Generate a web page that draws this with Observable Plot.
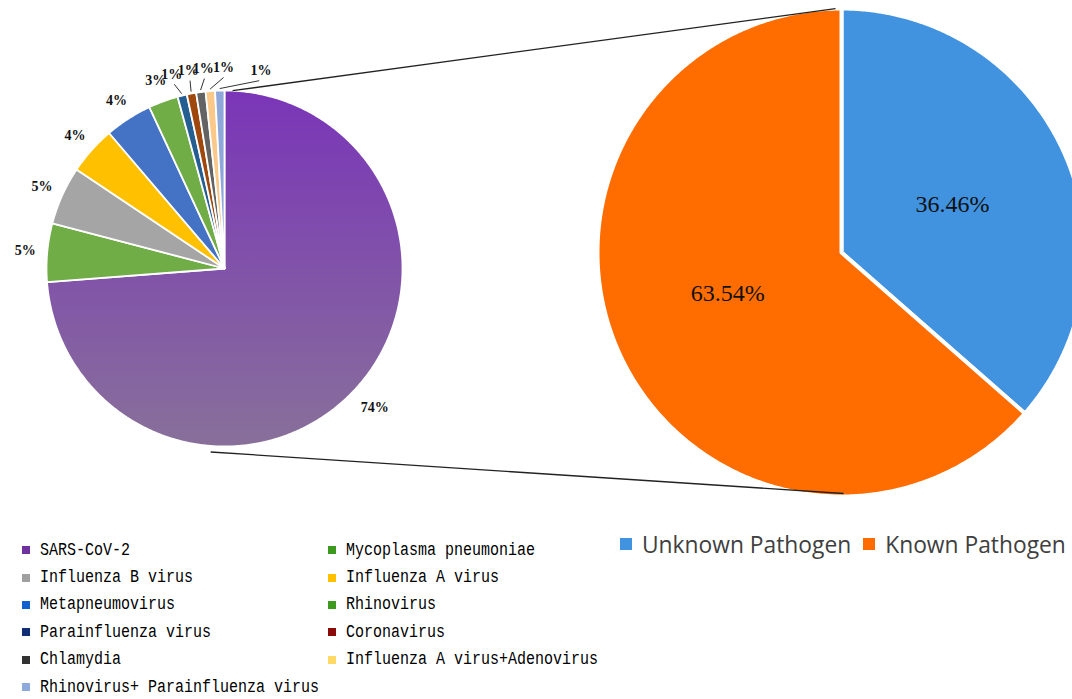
<!DOCTYPE html>
<html><head><meta charset="utf-8">
<script src="https://cdn.jsdelivr.net/npm/d3@7"></script>
<script src="https://cdn.jsdelivr.net/npm/@observablehq/plot@0.6"></script>
<style>
body{margin:0;background:#fff;overflow:hidden;width:1072px;height:699px;position:relative}
#chart{position:absolute;left:0;top:0}
#legL{position:absolute;left:22px;top:536.5px;display:grid;grid-template-columns:306px auto;font-family:"Liberation Mono",monospace;font-size:15px;color:#000}
#legL .it{display:flex;align-items:center;height:27.4px;white-space:nowrap}
#legL .sw{width:8px;height:8px;margin-right:10px;flex:none}
#legL .tx{display:inline-block;transform:scaleY(1.18);transform-origin:center}
#legR{position:absolute;left:620px;top:530px;height:28px;display:flex;align-items:center;font-family:"Open Sans",sans-serif;font-size:22.8px;color:#404040;white-space:nowrap}
#legR .sw{width:12px;height:12px;margin-right:10px;flex:none}
#legR .tx{margin-right:12px}
</style>
</head><body>
<div id="chart"></div>
<div id="legL"></div>
<div id="legR"></div>
<script>
// ---- data ----
const pathogens = ["SARS-CoV-2","Mycoplasma pneumoniae","Influenza B virus","Influenza A virus","Metapneumovirus","Rhinovirus","Parainfluenza virus","Coronavirus","Chlamydia","Influenza A virus+Adenovirus","Rhinovirus+ Parainfluenza virus"];
const pathogenPercents = [73.9, 5.3, 5.3, 4.4, 4.3, 2.7, 0.85, 0.85, 0.85, 0.85, 0.85];
const pathogenColors = ["url(#purpleGrad)","#70AD47","#A5A5A5","#FFC000","#4472C4","#70AD47","#255E91","#9E480E","#636363","#FAC98A","#8FA8DA"];
const pathogenLegendColors = ["#7030A0","#3D9A1E","#A0A0A0","#FFC000","#1060D0","#3D9A1E","#102E78","#8B0A0A","#333333","#FFD966","#8EA9DB"];
const statusNames = ["Unknown Pathogen","Known Pathogen"];
const statusPercents = [36.46, 63.54];
const statusColors = ["#4193E0","#FF6D00"];
// label angle nudges (degrees) for crowded / offset labels
const labelShift = [0,0,0,0,0,0,-1.5,0.3,1.6,4.3,12];
const statusLabelShift = [1, 4.5];

// ---- layout ----
const W = 1072, H = 530;
const L = {cx:224, cy:268, r:178};
const R = {cx:841, cy:252, r:244};
const rad = d => d*Math.PI/180;
function pt(c, r, deg){ return [c.cx + r*Math.sin(rad(deg)), c.cy - r*Math.cos(rad(deg))]; }

function buildPie(values, fills, names, c){
  const arcs = d3.pie().sort(null).value(d=>d)(values).map(a=>({...a, s:a.startAngle*180/Math.PI, e:a.endAngle*180/Math.PI}));
  const pts = [];
  arcs.forEach((a,i)=>{
    const n = Math.max(3, Math.ceil((a.e-a.s)/0.5));
    pts.push({key:names[i], fill:fills[i], x:c.cx, y:c.cy});
    for(let k=0;k<=n;k++){
      const [x,y] = pt(c, c.r, a.s + (a.e-a.s)*k/n);
      pts.push({key:names[i], fill:fills[i], x, y});
    }
  });
  return {arcs, pts};
}

const left = buildPie(pathogenPercents, pathogenColors, pathogens, L);
const right = buildPie(statusPercents, statusColors, statusNames, R);

const leftLabels = left.arcs.map((a,i)=>{
  const mid = (a.s+a.e)/2, ang = mid + labelShift[i];
  const small = pathogenPercents[i] < 2;
  const [x,y] = pt(L, i===0 ? 205 : (small ? 201 : 200), ang);
  const [x1,y1] = pt(L, L.r+2, mid);
  const [x2,y2] = pt(L, 191, ang);
  return {x, y, text: Math.round(pathogenPercents[i]) + "%", small, x1, y1, x2, y2};
});
const rightLabels = right.arcs.map((a,i)=>{
  const mid = (a.s+a.e)/2 + statusLabelShift[i];
  const [x,y] = pt(R, 121, mid);
  return {x, y, text: statusPercents[i].toFixed(2) + "%"};
});
const tA = pt(L, L.r, 2.6), tB = pt(R, R.r, -1.4);
const bA = pt(L, 184, 184.3), bB = pt(R, 241, 179.5);
const connectors = [{x1:tA[0],y1:tA[1],x2:tB[0],y2:tB[1]},{x1:bA[0],y1:bA[1],x2:bB[0],y2:bB[1]}];

const svg = Plot.plot({
  width: W, height: H, margin: 0,
  x: {domain:[0,W], range:[0,W], axis:null},
  y: {domain:[0,H], range:[0,H], axis:null},
  color: {type:"identity"},
  marks: [
    Plot.line(left.pts, {x:"x", y:"y", z:"key", fill:"fill", stroke:"white", strokeWidth:1.8, curve:"linear-closed", strokeLinejoin:"round"}),
    Plot.line(right.pts, {x:"x", y:"y", z:"key", fill:"fill", stroke:"white", strokeWidth:4, curve:"linear-closed", strokeLinejoin:"round", clip:true}),
    Plot.link(connectors, {x1:"x1", y1:"y1", x2:"x2", y2:"y2", stroke:"#222", strokeWidth:1.3}),
    Plot.link(leftLabels.filter(d=>d.small), {x1:"x1", y1:"y1", x2:"x2", y2:"y2", stroke:"#333", strokeWidth:1}),
    Plot.text(leftLabels, {x:"x", y:"y", text:"text", fontFamily:"Liberation Serif", fontWeight:"bold", fontSize:14, fill:"#111"}),
    Plot.text(rightLabels, {x:"x", y:"y", text:"text", fontFamily:"Liberation Serif", fontSize:24, fill:"#111"})
  ]
});
svg.insertAdjacentHTML("afterbegin", '<defs><linearGradient id="purpleGrad" x1="0" y1="0" x2="0" y2="1"><stop offset="0" stop-color="#7A35B8"/><stop offset="1" stop-color="#88709A"/></linearGradient></defs>');
document.getElementById("chart").appendChild(svg);

const legL = document.getElementById("legL");
pathogens.forEach((n,i)=>{
  const it = document.createElement("div"); it.className = "it";
  it.innerHTML = `<span class="sw" style="background:${pathogenLegendColors[i]}"></span><span class="tx">${n}</span>`;
  legL.appendChild(it);
});
const legR = document.getElementById("legR");
statusNames.forEach((n,i)=>{
  legR.insertAdjacentHTML("beforeend", `<span class="sw" style="background:${statusColors[i]}"></span><span class="tx">${n}</span>`);
});
</script>
</body></html>
